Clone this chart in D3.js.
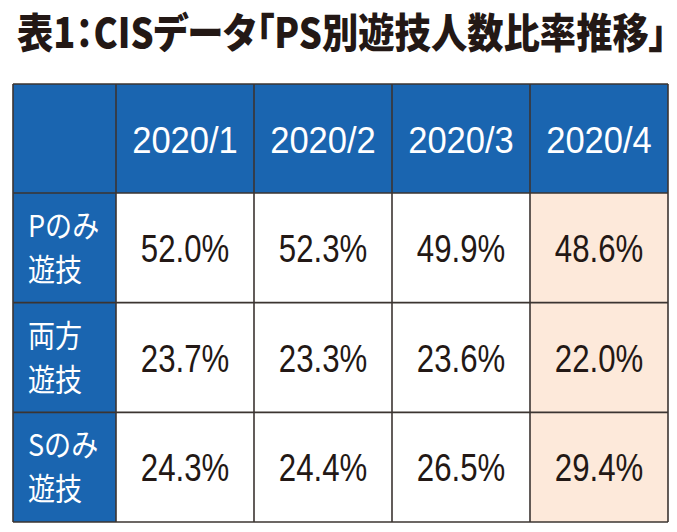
<!DOCTYPE html>
<html><head><meta charset="utf-8">
<script src="https://cdn.jsdelivr.net/npm/d3@7"></script>
<style>html,body{margin:0;padding:0;background:#fff;}</style>
</head><body>
<svg id="c" width="677" height="532"></svg>
<script>
const titleText = "表1：CISデータ「PS別遊技人数比率推移」";
const months = ["2020/1", "2020/2", "2020/3", "2020/4"];
const rowLabels = [["Pのみ", "遊技"], ["両方", "遊技"], ["Sのみ", "遊技"]];
const pOnly = [52.0, 52.3, 49.9, 48.6];
const both = [23.7, 23.3, 23.6, 22.0];
const sOnly = [24.3, 24.4, 26.5, 29.4];
const highlightMonth = "2020/4";

const series = [pOnly, both, sOnly];
const svg = d3.select("#c");
const ink = "#231815";
const blue = "#1a65b0";
const peach = "#fde9da";
const line = "#3b3431";

const x = d3.scaleBand().domain(months).range([116, 668]);
const y = d3.scaleBand().domain(d3.range(rowLabels.length)).range([193, 522]);
const labelX0 = 13, headY0 = 84;

// title (scaled horizontally to fit the reference width)
const title = svg.append("text")
  .attr("font-family", "Noto Sans CJK JP").attr("font-weight", 900)
  .attr("font-size", 41).attr("fill", ink)
  .style("font-feature-settings", "'palt'")
  .text(titleText);
const tw = title.node().getComputedTextLength();
title.attr("transform", `translate(17,48) scale(${650 / tw},1)`);

// header row
svg.append("rect").attr("x", labelX0).attr("y", headY0)
  .attr("width", x.range()[1] - labelX0).attr("height", y.range()[0] - headY0)
  .attr("fill", blue);
// label column
svg.append("rect").attr("x", labelX0).attr("y", y.range()[0])
  .attr("width", x.range()[0] - labelX0).attr("height", y.range()[1] - y.range()[0])
  .attr("fill", blue);

// data cells
const cells = [];
series.forEach((vals, r) => vals.forEach((v, c) => cells.push({r, m: months[c], v})));
svg.selectAll("rect.cell").data(cells).join("rect").attr("class", "cell")
  .attr("x", d => x(d.m)).attr("y", d => y(d.r))
  .attr("width", x.bandwidth()).attr("height", y.bandwidth())
  .attr("fill", d => d.m === highlightMonth ? peach : "#fff");

// grid lines
const vx = [labelX0, ...months.map(m => x(m)), x.range()[1]];
const hy = [headY0, ...d3.range(rowLabels.length).map(i => y(i)), y.range()[1]];
svg.selectAll("line.v").data(vx).join("line").attr("class", "v")
  .attr("x1", d => d).attr("x2", d => d).attr("y1", headY0).attr("y2", y.range()[1])
  .attr("stroke", line).attr("stroke-width", 1.6);
svg.selectAll("line.h").data(hy).join("line").attr("class", "h")
  .attr("x1", labelX0).attr("x2", x.range()[1]).attr("y1", d => d).attr("y2", d => d)
  .attr("stroke", line).attr("stroke-width", 1.6);

// header text
svg.selectAll("text.hd").data(months).join("text").attr("class", "hd")
  .attr("transform", d => `translate(${x(d) + x.bandwidth() / 2},${(headY0 + y.range()[0]) / 2 + 14}) scale(0.96,1)`)
  .attr("text-anchor", "middle")
  .attr("font-family", "Liberation Sans").attr("font-size", 36).attr("fill", "#fff")
  .text(d => d);

// values
svg.selectAll("text.val").data(cells).join("text").attr("class", "val")
  .attr("transform", d => `translate(${x(d.m) + x.bandwidth() / 2},${y(d.r) + y.bandwidth() / 2 + 14}) scale(0.8,1)`)
  .attr("text-anchor", "middle")
  .attr("font-family", "Liberation Sans").attr("font-size", 39).attr("fill", ink)
  .text(d => d.v.toFixed(1) + "%");

// row labels (two lines in one text element)
const lt = svg.selectAll("text.rl").data(rowLabels).join("text").attr("class", "rl")
  .attr("transform", (d, i) => `translate(28,${y(i) + y.bandwidth() / 2}) scale(0.89,1)`)
  .attr("font-family", "Noto Sans CJK JP").attr("font-size", 30.4).attr("fill", "#fff");
lt.selectAll("tspan").data(d => d).join("tspan")
  .attr("x", 0).attr("y", (d, j) => j === 0 ? -11 : 33.2)
  .text(d => d);
</script>
</body></html>
